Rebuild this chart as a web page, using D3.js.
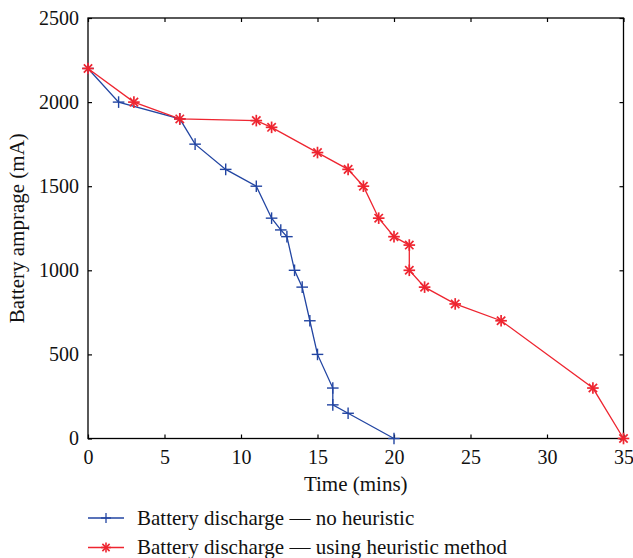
<!DOCTYPE html>
<html><head><meta charset="utf-8">
<script src="https://cdn.jsdelivr.net/npm/d3@7"></script>
<style>html,body{margin:0;padding:0;background:#fff;}svg{display:block;}
svg text{font-family:"Liberation Serif","DejaVu Serif","Times New Roman",Times,serif;}</style>
</head><body>
<svg id="chart" width="633" height="558"></svg>
<script>
const noHeuristicTime = [0, 2, 6, 7, 9, 11, 12, 12.6, 13, 13.5, 14, 14.5, 15, 16, 16, 17, 20];
const noHeuristicAmp  = [2200, 2000, 1900, 1750, 1600, 1500, 1310, 1240, 1200, 1000, 900, 700, 500, 300, 200, 150, 0];
const heuristicTime = [0, 3, 6, 11, 12, 15, 17, 18, 19, 20, 21, 21, 22, 24, 27, 33, 35];
const heuristicAmp  = [2200, 2000, 1900, 1890, 1850, 1700, 1600, 1500, 1310, 1200, 1150, 1000, 900, 800, 700, 300, 0];
const xTicks = [0, 5, 10, 15, 20, 25, 30, 35];
const yTicks = [0, 500, 1000, 1500, 2000, 2500];
const seriesNames = ["Battery discharge \u2014 no heuristic", "Battery discharge \u2014 using heuristic method"];
const xLabel = "Time (mins)";
const yLabel = "Battery amprage (mA)";

const svg = d3.select("#chart");
const L = 88, R = 623.5, T = 18, B = 438.5;
const x = d3.scaleLinear().domain([0, 35]).range([L, R]);
const y = d3.scaleLinear().domain([0, 2500]).range([B, T]);
const blue = "#2245a2", red = "#ee2530";

// frame
svg.append("rect").attr("x", L).attr("y", T).attr("width", R - L).attr("height", B - T)
  .attr("fill", "none").attr("stroke", "#000").attr("stroke-width", 1.3);

// axes with inward ticks
const ax = svg.append("g").attr("transform", `translate(0,${B})`)
  .call(d3.axisBottom(x).tickValues(xTicks).tickSize(-4).tickPadding(11).tickFormat(d3.format("d")));
const axTop = svg.append("g").attr("transform", `translate(0,${T})`)
  .call(d3.axisTop(x).tickValues(xTicks).tickSize(-4).tickFormat(""));
const ay = svg.append("g").attr("transform", `translate(${L},0)`)
  .call(d3.axisLeft(y).tickValues(yTicks).tickSize(-4).tickPadding(9).tickFormat(d3.format("d")));
const ayR = svg.append("g").attr("transform", `translate(${R},0)`)
  .call(d3.axisRight(y).tickValues(yTicks).tickSize(-4).tickFormat(""));
[ax, axTop, ay, ayR].forEach(g => {
  g.attr("font-family", null);
  g.select(".domain").remove();
  g.selectAll(".tick line").attr("stroke", "#000").attr("stroke-width", 1.2);
  g.selectAll(".tick text").attr("fill", "#111").style("font-size", "20px");
});

// axis labels
svg.append("text").attr("x", (L + R) / 2).attr("y", 491).attr("text-anchor", "middle")
  .style("font-size", "21px").attr("fill", "#111").text(xLabel);
svg.append("text").attr("transform", `translate(24,${(T + B) / 2}) rotate(-90)`).attr("text-anchor", "middle")
  .style("font-size", "21px").attr("fill", "#111").text(yLabel);

function plusMarker(g, cx, cy, s, color, w) {
  g.append("line").attr("x1", cx - s).attr("x2", cx + s).attr("y1", cy).attr("y2", cy).attr("stroke", color).attr("stroke-width", w);
  g.append("line").attr("x1", cx).attr("x2", cx).attr("y1", cy - s).attr("y2", cy + s).attr("stroke", color).attr("stroke-width", w);
}
function starMarker(g, cx, cy, s, color, w) {
  plusMarker(g, cx, cy, s, color, w);
  const d = s * 0.72;
  g.append("line").attr("x1", cx - d).attr("x2", cx + d).attr("y1", cy - d).attr("y2", cy + d).attr("stroke", color).attr("stroke-width", w);
  g.append("line").attr("x1", cx - d).attr("x2", cx + d).attr("y1", cy + d).attr("y2", cy - d).attr("stroke", color).attr("stroke-width", w);
}

const line = d3.line().x(d => x(d[0])).y(d => y(d[1]));
const s1 = d3.zip(noHeuristicTime, noHeuristicAmp);
const s2 = d3.zip(heuristicTime, heuristicAmp);

const g1 = svg.append("g");
g1.append("path").datum(s1).attr("d", line).attr("fill", "none").attr("stroke", blue).attr("stroke-width", 1.3);
s1.forEach(d => plusMarker(g1, x(d[0]), y(d[1]), 5.8, blue, 1.4));

const g2 = svg.append("g");
g2.append("path").datum(s2).attr("d", line).attr("fill", "none").attr("stroke", red).attr("stroke-width", 1.3);
s2.forEach(d => starMarker(g2, x(d[0]), y(d[1]), 5.8, red, 1.7));

// legend
const lg = svg.append("g");
const legendY = [518, 547.5];
const colors = [blue, red];
legendY.forEach((ly, i) => {
  lg.append("line").attr("x1", 88).attr("x2", 124).attr("y1", ly).attr("y2", ly).attr("stroke", colors[i]).attr("stroke-width", 1.3);
  if (i === 0) plusMarker(lg, 106, ly, 5, colors[i], 1.3); else starMarker(lg, 106, ly, 5, colors[i], 1.6);
  lg.append("text").attr("x", 137).attr("y", ly + 6.5).style("font-size", "21px")
    .attr("fill", "#111").text(seriesNames[i]);
});
</script>
</body></html>
